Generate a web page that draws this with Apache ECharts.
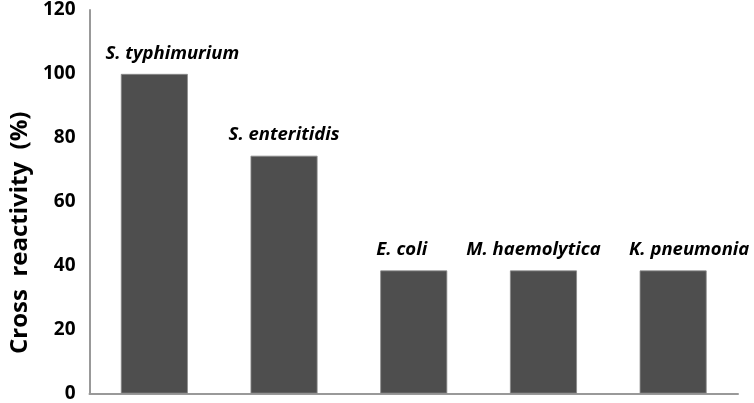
<!DOCTYPE html>
<html><head><meta charset="utf-8">
<script src="https://cdn.jsdelivr.net/npm/echarts@6/dist/echarts.min.js"></script>
<style>html,body{margin:0;padding:0;background:#fff}#c{width:754px;height:403px}</style>
</head><body><div id="c"></div>
<script>
const categories = ["S. typhimurium", "S. enteritidis", "E. coli", "M. haemolytica", "K. pneumonia"];
const values = [100, 74.4, 38.5, 38.5, 38.5];
const yTicks = [0, 20, 40, 60, 80, 100, 120];
const yTitle = "Cross  reactivity  (%)";
// horizontal nudges of the hand-placed bar labels (style only)
const labelNudge = [18, 0, -12, -10, 16];

const chart = echarts.init(document.getElementById('c'), null, {renderer: 'canvas'});
chart.setOption({
  animation: false,
  grid: {left: 87, right: 16, top: 10, bottom: 9},
  xAxis: {
    type: 'category', data: categories,
    axisLine: {lineStyle: {color: '#999', width: 2}},
    axisTick: {show: false}, axisLabel: {show: false}
  },
  yAxis: {
    type: 'value', min: yTicks[0], max: yTicks[yTicks.length-1], interval: 20,
    name: yTitle, nameLocation: 'middle', nameGap: 48,
    nameTextStyle: {fontFamily: 'Open Sans', fontWeight: 'bold', fontSize: 24, color: '#000', padding: [0, 62, 0, 0]},
    axisLine: {show: true, lineStyle: {color: '#999', width: 2}},
    axisTick: {show: false}, splitLine: {show: false},
    axisLabel: {margin: 14, fontFamily: 'Open Sans', fontWeight: 'bold', fontSize: 19, color: '#000'}
  },
  series: [{
    type: 'bar', barWidth: 67,
    data: values.map((v, i) => ({value: v, label: {offset: [labelNudge[i], 0]}})),
    itemStyle: {color: '#4e4e4e', borderColor: '#8a8a8a', borderWidth: 0.8},
    label: {show: true, position: 'top', distance: 11,
      formatter: p => categories[p.dataIndex],
      fontFamily: 'Open Sans', fontWeight: 'bold', fontStyle: 'italic', fontSize: 18.5, color: '#000'}
  }]
});
</script></body></html>
